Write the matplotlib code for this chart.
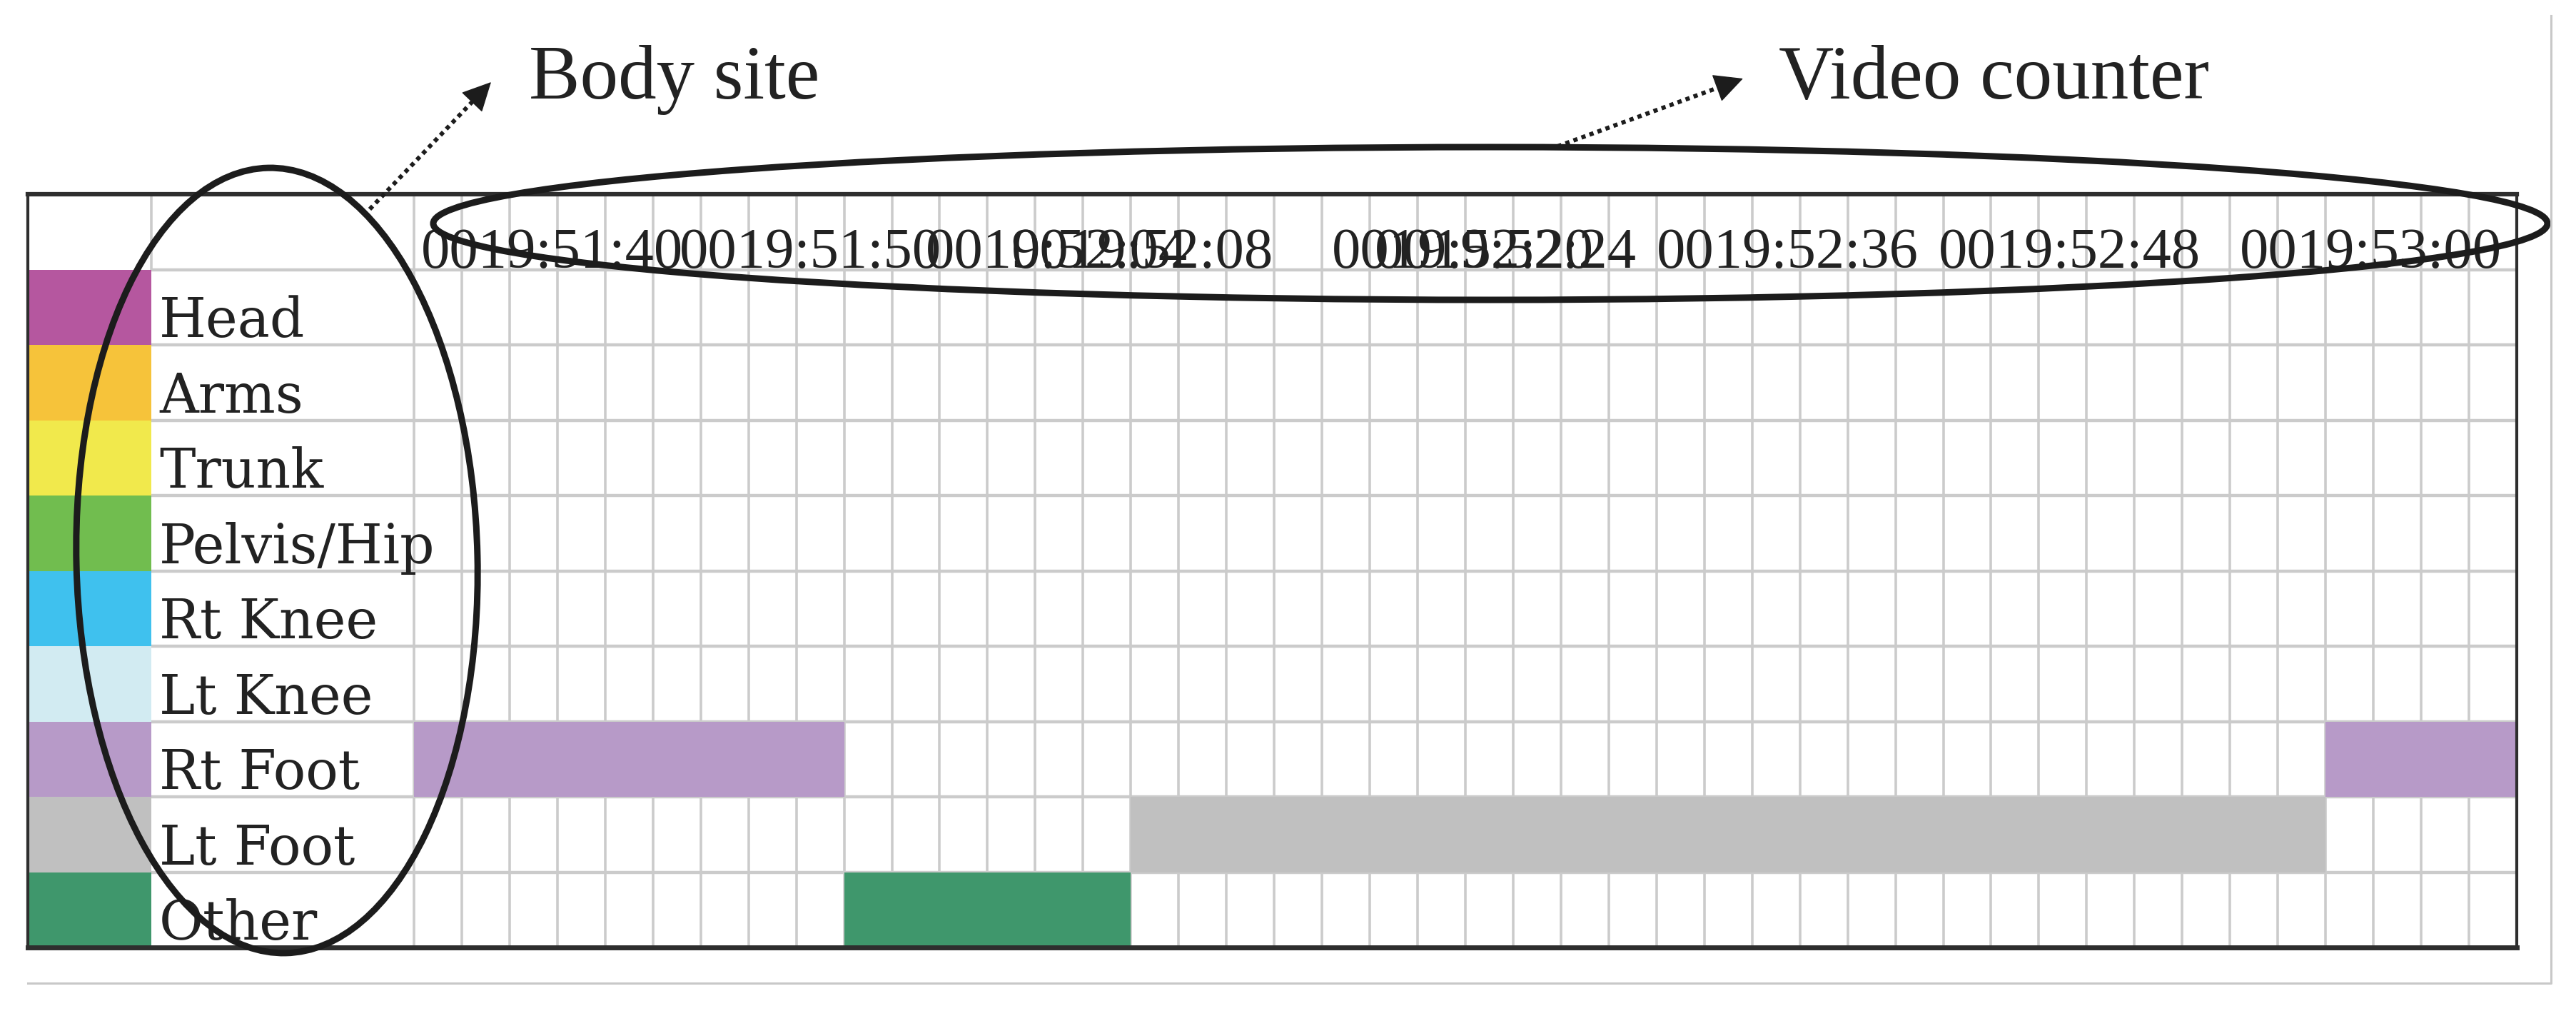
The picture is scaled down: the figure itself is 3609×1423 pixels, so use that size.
import numpy as np
import matplotlib.pyplot as plt
from matplotlib.patches import Ellipse

# body sites coded in the video, top to bottom, and their legend colours
body_sites = ['Head', 'Arms', 'Trunk', 'Pelvis/Hip', 'Rt Knee', 'Lt Knee',
              'Rt Foot', 'Lt Foot', 'Other']
site_colors = ['#b5579f', '#f6c33a', '#f1e94c', '#71bd4f', '#3fc1ee',
               '#d2ebf2', '#b79ac8', '#c0c0c0', '#3f976c']

n_frames = 44
# coded episodes: site, first frame, number of frames
episode_site = ['Rt Foot', 'Other', 'Lt Foot', 'Rt Foot']
episode_start = [0, 9, 15, 40]
episode_len = [9, 6, 25, 4]

# video counter labels (they overlap in the original) and the frame they start at
counter_labels = ['0019:51:40', '0019:51:50', '0019:52:04', '0019:52:08',
                  '0019:52:20', '0019:52:24', '0019:52:36', '0019:52:48',
                  '0019:53:00']
counter_cols = [0.15, 5.55, 10.7, 12.5, 19.2, 20.1, 26.0, 31.9, 38.2]

W, H = 3609, 1423
fig = plt.figure(figsize=(W / 100, H / 100), dpi=100)
fig.patch.set_facecolor('white')

# table area in pixels
tl, tr, tt, tb = 39, 3526, 272, 1327
ax = fig.add_axes([tl / W, 1 - tb / H, (tr - tl) / W, (tb - tt) / H])
sw0, lab0 = -8.08, -5.5
nrows = len(body_sites) + 1
ax.set_xlim(sw0, n_frames)
ax.set_ylim(nrows, 0)
ax.set_xticks([])
ax.set_yticks([])
for side, lw in [('top', 4.5), ('bottom', 5), ('left', 3), ('right', 3)]:
    ax.spines[side].set_linewidth(lw)
    ax.spines[side].set_color('#2e2e2e')

grid_c = '#cbcbcb'
ax.hlines(np.arange(1, nrows), lab0, n_frames, color=grid_c, lw=3.2, zorder=1)
ax.vlines(np.arange(0, n_frames), 0, nrows, color=grid_c, lw=2.6, zorder=1)
ax.vlines(lab0, 0, 1, color=grid_c, lw=2.6, zorder=1)

# colour legend column
rows = np.arange(1, nrows)
ax.barh(rows + 0.5, lab0 - sw0, left=sw0, height=1, color=site_colors,
        linewidth=0, zorder=2)
for r, site in zip(rows, body_sites):
    ax.text(lab0 + 0.17, r + 0.9, site, family='DejaVu Serif', fontsize=54.5,
            va='baseline', ha='left', color='#222222', zorder=3)

# coded episodes
for site, start, length in zip(episode_site, episode_start, episode_len):
    i = body_sites.index(site)
    ax.barh(i + 1.5, length, left=start, height=1, color=site_colors[i],
            linewidth=0, zorder=2)

# video counter header
for col, lab in zip(counter_cols, counter_labels):
    ax.text(col, 0.976, lab, family='Liberation Serif', fontsize=58,
            va='baseline', ha='left', color='#222222', zorder=3, clip_on=False)

# annotation layer in pixel coordinates
ov = fig.add_axes([0, 0, 1, 1], zorder=5)
ov.set_xlim(0, W)
ov.set_ylim(H, 0)
ov.axis('off')

ov.plot([39, 3574, 3574], [1377, 1377, 22], color='#c8c8c8', lw=2.2)

ov.add_patch(Ellipse((388, 785), 562, 1100, angle=-1.3, fill=False, lw=6.5,
                     ec='#1c1c1c'))
ov.add_patch(Ellipse((2088, 313), 2962, 214, fill=False, lw=6.5, ec='#1c1c1c'))


def dotted_arrow(start, tip):
    start = np.array(start, float)
    tip = np.array(tip, float)
    u = (tip - start) / np.hypot(*(tip - start))
    base = tip - 34 * u
    ov.plot([start[0], base[0]], [start[1], base[1]], color='#1c1c1c',
            lw=4.3, linestyle=(0, (1, 1)), solid_capstyle='butt')
    ov.annotate('', xy=tip, xytext=base,
                arrowprops=dict(arrowstyle='-|>', color='#1c1c1c', lw=1,
                                mutation_scale=66, shrinkA=0, shrinkB=0))


dotted_arrow((518, 293), (688, 115))
dotted_arrow((2182, 205), (2442, 110))

ov.text(741, 138, 'Body site', family='Liberation Serif', fontsize=77,
        va='baseline', ha='left', color='#222222')
ov.text(2492, 138, 'Video counter', family='Liberation Serif', fontsize=77,
        va='baseline', ha='left', color='#222222')

fig.savefig('out.png', dpi=100)
